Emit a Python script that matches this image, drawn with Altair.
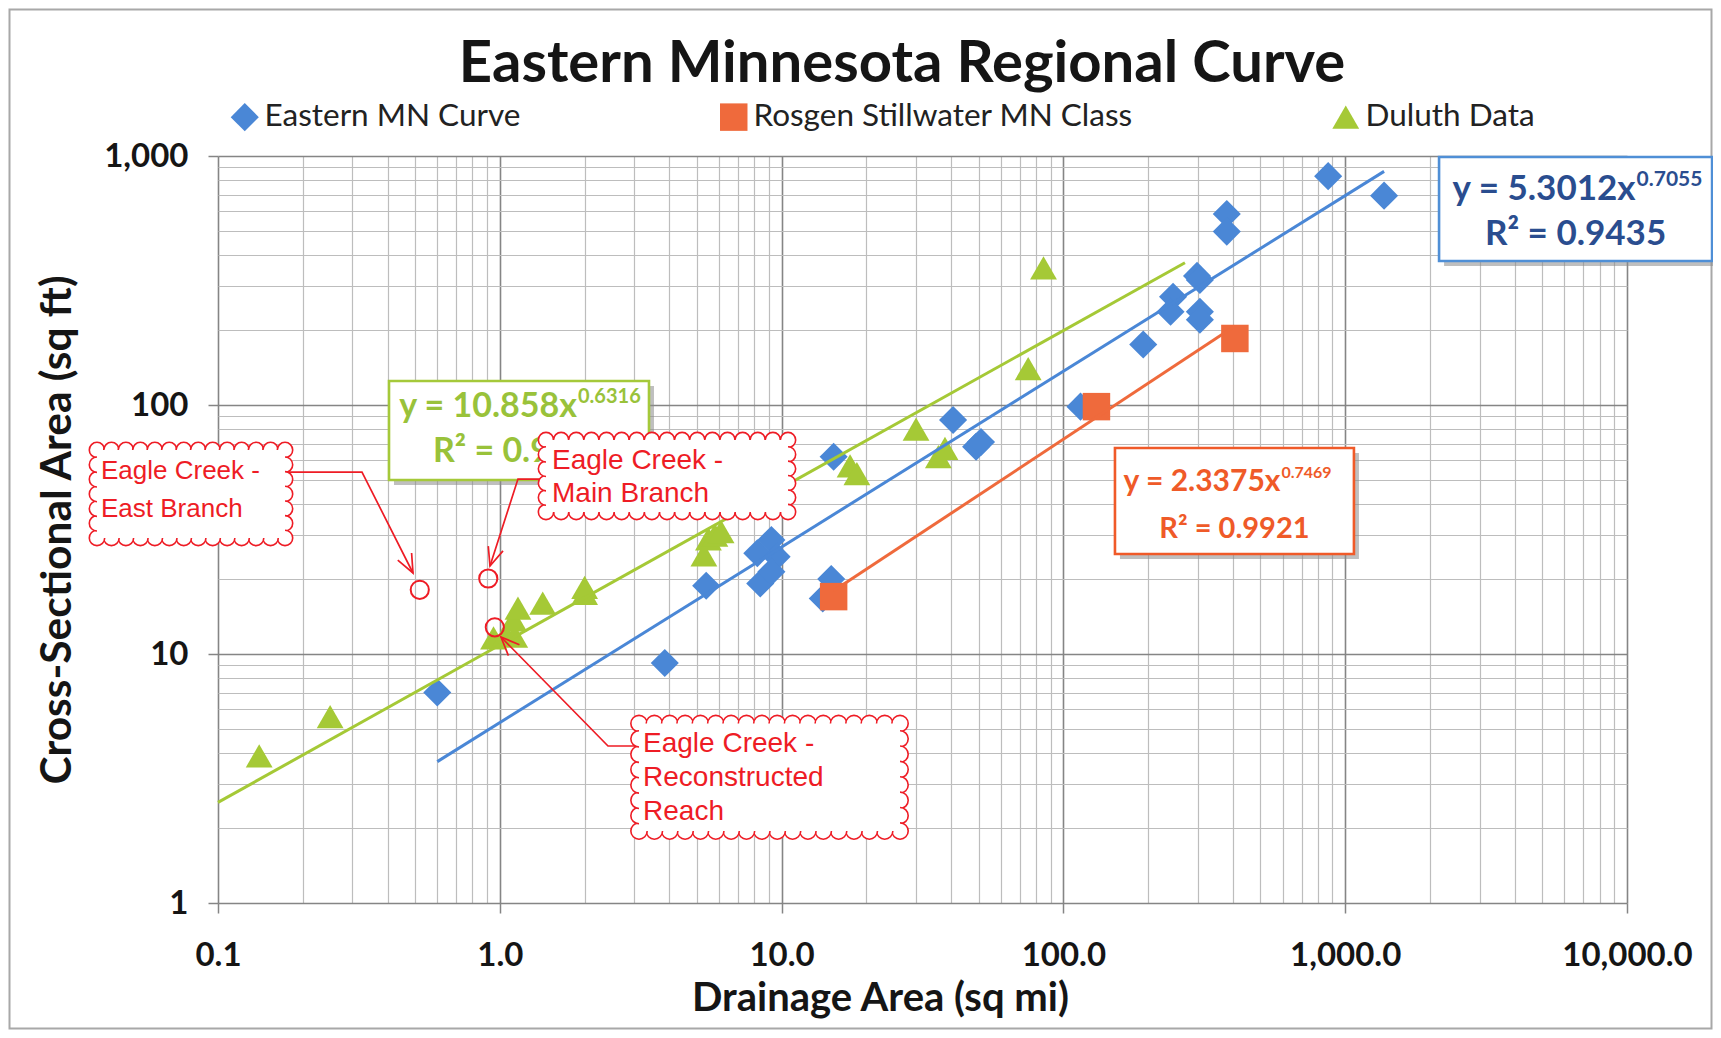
import json
import numpy as np
import pandas as pd
import altair as alt

# ------------------------------------------------------------------ data
TITLE = "Eastern Minnesota Regional Curve"
X_TITLE = "Drainage Area (sq mi)"
Y_TITLE = "Cross-Sectional Area (sq ft)"
SERIES = ["Eastern MN Curve", "Rosgen Stillwater MN Class", "Duluth Data"]

emn_x = [0.6, 3.85, 5.4, 8.2, 9.2, 9.6, 8.4, 9.2, 15.0, 14.0, 15.3, 40.6, 49.0, 51.0,
         115.0, 192.0, 245.0, 240.0, 298.0, 305.0, 305.0, 305.0, 380.0, 380.0, 870.0, 1374.0]
emn_y = [7.0, 9.2, 18.8, 25.4, 28.7, 24.6, 19.2, 21.4, 20.0, 16.7, 62.0, 87.0, 68.0, 71.0,
         98.5, 175.0, 272.0, 237.0, 330.0, 318.0, 237.0, 220.0, 585.0, 497.0, 830.0, 693.0]

ros_x = [15.3, 131.0, 406.0]
ros_y = [17.0, 98.5, 185.0]

dul_x = [0.14, 0.25, 0.95, 1.05, 1.13, 1.12, 1.16, 1.42, 2.0, 2.0, 5.3, 5.5, 5.8, 6.1,
         17.5, 18.5, 30.0, 36.0, 38.0, 75.0, 85.0]
dul_y = [3.9, 5.6, 11.6, 12.0, 11.8, 13.7, 15.3, 16.0, 17.5, 18.5, 25.0, 29.0, 30.0, 31.0,
         57.0, 53.0, 80.0, 62.0, 67.0, 140.0, 355.0]

# power trendlines y = a*x^b as printed on the chart (order: SERIES)
fit_a = [5.3012, 2.3375, 10.858]
fit_b = [0.7055, 0.7469, 0.6316]
fit_r2 = ["R² = 0.9435", "R² = 0.9921", "R² = 0.9"]
fit_x_from = [0.6, 15.3, 0.1]
fit_x_to = [1374.0, 406.0, 270.0]

eagle_x = [0.52, 0.91, 0.96]
eagle_y = [18.1, 20.1, 12.8]
eagle_lines = [["Eagle Creek -", "East Branch"],
               ["Eagle Creek -", "Main Branch"],
               ["Eagle Creek -", "Reconstructed", "Reach"]]

# ------------------------------------------------------------------ style / layout
COLORS = ["#4a87d6", "#ef6a3c", "#a5c936"]
SHAPES = ["diamond", "square", "triangle-up"]
SIZES = [790, 720, 690]
EQ_TEXT = ["#2a4d8f", "#ef5a28", "#99c23a"]
EQ_BORDER = ["#4f8fd6", "#f05a28", "#a5c93a"]
EQ_SIZE = [35, 30, 34]
EQ_R2_SIZE = [35, 29, 34]
EQ_EXP_SIZE = [21, 16, 20]
EQ_DX = [60, 46, 58]
EQ_DY = [-14, -13, -14]
CB_FONT_SIZE = [26, 28, 28]
RED = "#ee1c25"
MAJOR_GRID = "#858585"
MINOR_GRID = "#bdbdbd"
FONT = "Lato"

W, H = 1409, 747
DX, DY = W / 5.0, H / 3.0

# equation boxes (data units), order: SERIES
eq_x1 = [2153.0, 152.4, 0.4044]
eq_x2 = [20040.0, 1074.0, 3.384]
eq_yt = [990.6, 67.2, 124.9]
eq_yb = [378.6, 25.2, 49.98]
eq_l1 = [665.7, 45.2, 89.5]
eq_l2 = [439.3, 29.2, 59.0]
green_r2_x = 0.579

# callout boxes (data units, inner edge of the scalloped border)
cb_x1 = [0.0372, 1.4587, 3.119]
cb_x2 = [0.1729, 10.537, 26.32]
cb_yt = [65.96, 72.35, 5.259]
cb_yb = [29.24, 37.18, 1.9458]
cb_tx = [0.03844, 1.532, 3.223]
cb_ty = [[50.45, 35.5], [55.3, 40.8], [4.04, 2.951, 2.154]]
# connector: start on box edge, elbow, arrow tip
con_pts = [[(0.1729, 53.8), (0.3243, 53.8), (0.492, 21.15)],
           [(1.4587, 50.4), (1.16, 50.4), (0.923, 22.56)],
           [(3.119, 4.271), (2.421, 4.271), (1.0099, 11.70)]]

# ------------------------------------------------------------------ scales / axes
XS = alt.Scale(type="log", domain=[0.1, 10000], nice=False)
YS = alt.Scale(type="log", domain=[1, 1000], nice=False)
X_MAJOR = [0.1, 1, 10, 100, 1000, 10000]
Y_MAJOR = [1, 10, 100, 1000]
x_ticks = sorted({round(d * k, 6) for d in X_MAJOR[:-1] for k in range(1, 10)} | {10000})
y_ticks = sorted({round(d * k, 6) for d in Y_MAJOR[:-1] for k in range(1, 10)} | {1000})


def major(vals):
    return "indexof(" + json.dumps(vals) + ", datum.value) >= 0"


def cond(vals, a, b):
    return {"condition": {"test": major(vals), "value": a}, "value": b}


x_axis = alt.Axis(
    values=x_ticks, title=X_TITLE, titleFont=FONT, titleFontSize=40, titleFontWeight="bold",
    titleColor="#151515", titleX=662, titleY=107, titleAlign="center", titleBaseline="alphabetic",
    labelExpr=major(X_MAJOR) + " ? format(datum.value, ',.1f') : ''",
    labelFont=FONT, labelFontSize=33, labelFontWeight="bold", labelColor="#151515",
    labelBaseline="alphabetic", labelPadding=52, labelOverlap=False, labelFlush=False,
    labelBound=False,
    tickSize=10, tickColor=MAJOR_GRID, tickWidth=1.5, tickOpacity=cond(X_MAJOR, 1, 0),
    grid=True, gridColor=cond(X_MAJOR, MAJOR_GRID, MINOR_GRID), gridWidth=cond(X_MAJOR, 1.6, 1.2),
    domain=False,
)
y_axis = alt.Axis(
    values=y_ticks, title=Y_TITLE, titleFont=FONT, titleFontSize=42.5, titleFontWeight="bold",
    titleColor="#151515", titleX=-161, titleY=H / 2, titleAngle=270, titleAlign="center",
    titleBaseline="middle",
    labelExpr=major(Y_MAJOR) + " ? format(datum.value, ',') : ''",
    labelFont=FONT, labelFontSize=33, labelFontWeight="bold", labelColor="#151515",
    labelBaseline="middle", labelAlign="right", labelPadding=20, labelOverlap=False,
    labelFlush=False, labelBound=False,
    tickSize=10, tickColor=MAJOR_GRID, tickWidth=1.5, tickOpacity=cond(Y_MAJOR, 1, 0),
    grid=True, gridColor=cond(Y_MAJOR, MAJOR_GRID, MINOR_GRID), gridWidth=cond(Y_MAJOR, 1.6, 1.2),
    domain=False,
)


def X(f="x"):
    return alt.X(f"{f}:Q", scale=XS, axis=x_axis)


def Y(f="y"):
    return alt.Y(f"{f}:Q", scale=YS, axis=y_axis)


layers = []

# chart frame
frame = alt.Chart(pd.DataFrame({"k": [0]})).mark_rect(
    fill="white", fillOpacity=0, stroke="#a8a8a8", strokeWidth=2
).encode(x=alt.value(-208.5), x2=alt.value(1493.5), y=alt.value(-146.5), y2=alt.value(872.5))
layers.append(frame)

# title
layers.append(alt.Chart(pd.DataFrame({"t": [TITLE]})).mark_text(
    font=FONT, fontSize=58, fontWeight="bold", align="center", baseline="alphabetic",
    color="#151515"
).encode(x=alt.value(684), y=alt.value(-74), text="t:N"))

# data points
pts = pd.concat([
    pd.DataFrame({"x": emn_x, "y": emn_y, "series": SERIES[0]}),
    pd.DataFrame({"x": ros_x, "y": ros_y, "series": SERIES[1]}),
    pd.DataFrame({"x": dul_x, "y": dul_y, "series": SERIES[2]}),
], ignore_index=True)
pts["o"] = np.arange(len(pts))

legend = alt.Legend(
    orient="none", legendX=11, legendY=-55, direction="horizontal", columns=3, title=None,
    labelFont=FONT, labelFontSize=31.5, labelColor="#222222", symbolSize=430,
    columnPadding=197, labelLimit=800, padding=0, symbolStrokeWidth=0, labelOffset=4,
)
layers.append(alt.Chart(pts).mark_point(filled=True, opacity=1, strokeWidth=0).encode(
    x=X(), y=Y(),
    color=alt.Color("series:N", scale=alt.Scale(domain=SERIES, range=COLORS), legend=legend),
    shape=alt.Shape("series:N", scale=alt.Scale(domain=SERIES, range=SHAPES), legend=legend),
    size=alt.Size("series:N", scale=alt.Scale(domain=SERIES, range=SIZES), legend=None),
    order=alt.Order("o:Q"),
))

# trendlines (straight on log-log axes: the two ends of each printed fit)
for i in range(3):
    xs = [fit_x_from[i], fit_x_to[i]]
    d = pd.DataFrame({"x": xs, "y": [fit_a[i] * v ** fit_b[i] for v in xs]})
    layers.append(alt.Chart(d).mark_line(color=COLORS[i], strokeWidth=3).encode(x=X(), y=Y()))

# equation boxes
eqb = pd.DataFrame({"x": eq_x1, "x2": eq_x2, "y": eq_yt, "y2": eq_yb, "c": EQ_BORDER})
layers.append(alt.Chart(eqb).mark_rect(fill="#8a8a8a", opacity=0.55, xOffset=5, yOffset=5,
                                        x2Offset=5, y2Offset=5).encode(
    x=X(), x2="x2:Q", y=Y(), y2="y2:Q"))
layers.append(alt.Chart(eqb).mark_rect(fill="white", strokeWidth=2.6).encode(
    x=X(), x2="x2:Q", y=Y(), y2="y2:Q", stroke=alt.Stroke("c:N", scale=None)))

for i in range(3):
    cx = float(np.sqrt(eq_x1[i] * eq_x2[i]))
    r1 = pd.DataFrame({"x": [cx], "y": [eq_l1[i]], "main": [f"y = {fit_a[i]}x"],
                       "exp": [f"{fit_b[i]}"]})
    layers.append(alt.Chart(r1).mark_text(
        align="right", baseline="alphabetic", dx=EQ_DX[i], font=FONT, fontSize=EQ_SIZE[i],
        fontWeight="bold", color=EQ_TEXT[i]).encode(x=X(), y=Y(), text="main:N"))
    layers.append(alt.Chart(r1).mark_text(
        align="left", baseline="alphabetic", dx=EQ_DX[i] + 1, dy=EQ_DY[i], font=FONT,
        fontSize=EQ_EXP_SIZE[i], fontWeight="bold", color=EQ_TEXT[i]).encode(
        x=X(), y=Y(), text="exp:N"))
    left = i == 2
    r2 = pd.DataFrame({"x": [green_r2_x if left else cx], "y": [eq_l2[i]], "t": [fit_r2[i]]})
    layers.append(alt.Chart(r2).mark_text(
        align="left" if left else "center", baseline="alphabetic", font=FONT,
        fontSize=EQ_R2_SIZE[i], fontWeight="bold", color=EQ_TEXT[i]).encode(
        x=X(), y=Y(), text="t:N"))

# callout connectors
rows = []
for k, pl in enumerate(con_pts):
    for j, (xv, yv) in enumerate(pl):
        rows.append({"id": k, "o": j, "x": xv, "y": yv})
layers.append(alt.Chart(pd.DataFrame(rows)).mark_line(color=RED, strokeWidth=1.7).encode(
    x=X(), y=Y(), detail="id:N", order="o:Q"))

# arrow heads (open V) at the tips
heads = []
for pl in con_pts:
    (xa, ya), (xb, yb) = pl[1], pl[2]
    sx = np.log10(xb / xa) * DX
    sy = -np.log10(yb / ya) * DY
    ang = float(np.degrees(np.arctan2(sx, -sy))) % 360
    heads.append({"x": xb, "y": yb, "a": ang})
ARROW = "M -0.42 1 L 0 0 L 0.42 1"
layers.append(alt.Chart(pd.DataFrame(heads)).mark_point(
    shape=ARROW, filled=False, stroke=RED, strokeWidth=1.7, size=1360, opacity=1
).encode(x=X(), y=Y(), angle=alt.Angle("a:Q", scale=None)))


# scalloped callout boxes
def scallops(x1, x2, yt, yb, step=15.0):
    wpx = np.log10(x2 / x1) * DX
    hpx = np.log10(yt / yb) * DY
    nw = max(2, int(round(wpx / step)))
    nh = max(2, int(round(hpx / step)))
    xs = x1 * (x2 / x1) ** (np.arange(nw + 1) / nw)
    ys = yb * (yt / yb) ** (np.arange(nh + 1) / nh)
    sp = min(wpx / nw, hpx / nh)
    d = sp * 1.2
    sz = float(np.pi * (d / 2) ** 2)
    out = []
    for xv in xs:
        out.append({"x": xv, "y": yt, "s": sz})
    for yv in ys[::-1][1:]:
        out.append({"x": x2, "y": yv, "s": sz})
    for xv in xs[::-1][1:]:
        out.append({"x": xv, "y": yb, "s": sz})
    for yv in ys[1:-1]:
        out.append({"x": x1, "y": yv, "s": sz})
    return out


for k in range(3):
    sc = pd.DataFrame(scallops(cb_x1[k], cb_x2[k], cb_yt[k], cb_yb[k]))
    layers.append(alt.Chart(sc).mark_point(
        shape="circle", filled=False, fill="white", fillOpacity=1, stroke=RED,
        strokeWidth=1.6, opacity=1
    ).encode(x=X(), y=Y(), size=alt.Size("s:Q", scale=None)))
    box = pd.DataFrame({"x": [cb_x1[k]], "x2": [cb_x2[k]], "y": [cb_yt[k]], "y2": [cb_yb[k]]})
    layers.append(alt.Chart(box).mark_rect(fill="white").encode(
        x=X(), x2="x2:Q", y=Y(), y2="y2:Q"))
    tx = pd.DataFrame({"x": cb_tx[k], "y": cb_ty[k], "t": eagle_lines[k]})
    layers.append(alt.Chart(tx).mark_text(
        align="left", baseline="alphabetic", font="Liberation Sans", fontSize=CB_FONT_SIZE[k],
        color=RED
    ).encode(x=X(), y=Y(), text="t:N"))

# Eagle Creek points
layers.append(alt.Chart(pd.DataFrame({"x": eagle_x, "y": eagle_y})).mark_point(
    shape="circle", filled=False, stroke=RED, strokeWidth=2, size=330, opacity=1
).encode(x=X(), y=Y()))

chart = alt.layer(*layers).properties(
    width=W, height=H,
    padding={"left": 210, "top": 148, "right": 86, "bottom": 127},
    autosize=alt.AutoSizeParams(type="none"),
    background="white",
).configure_view(strokeWidth=0)

chart.save("out.html", embed_options={"renderer": "svg", "actions": False})
